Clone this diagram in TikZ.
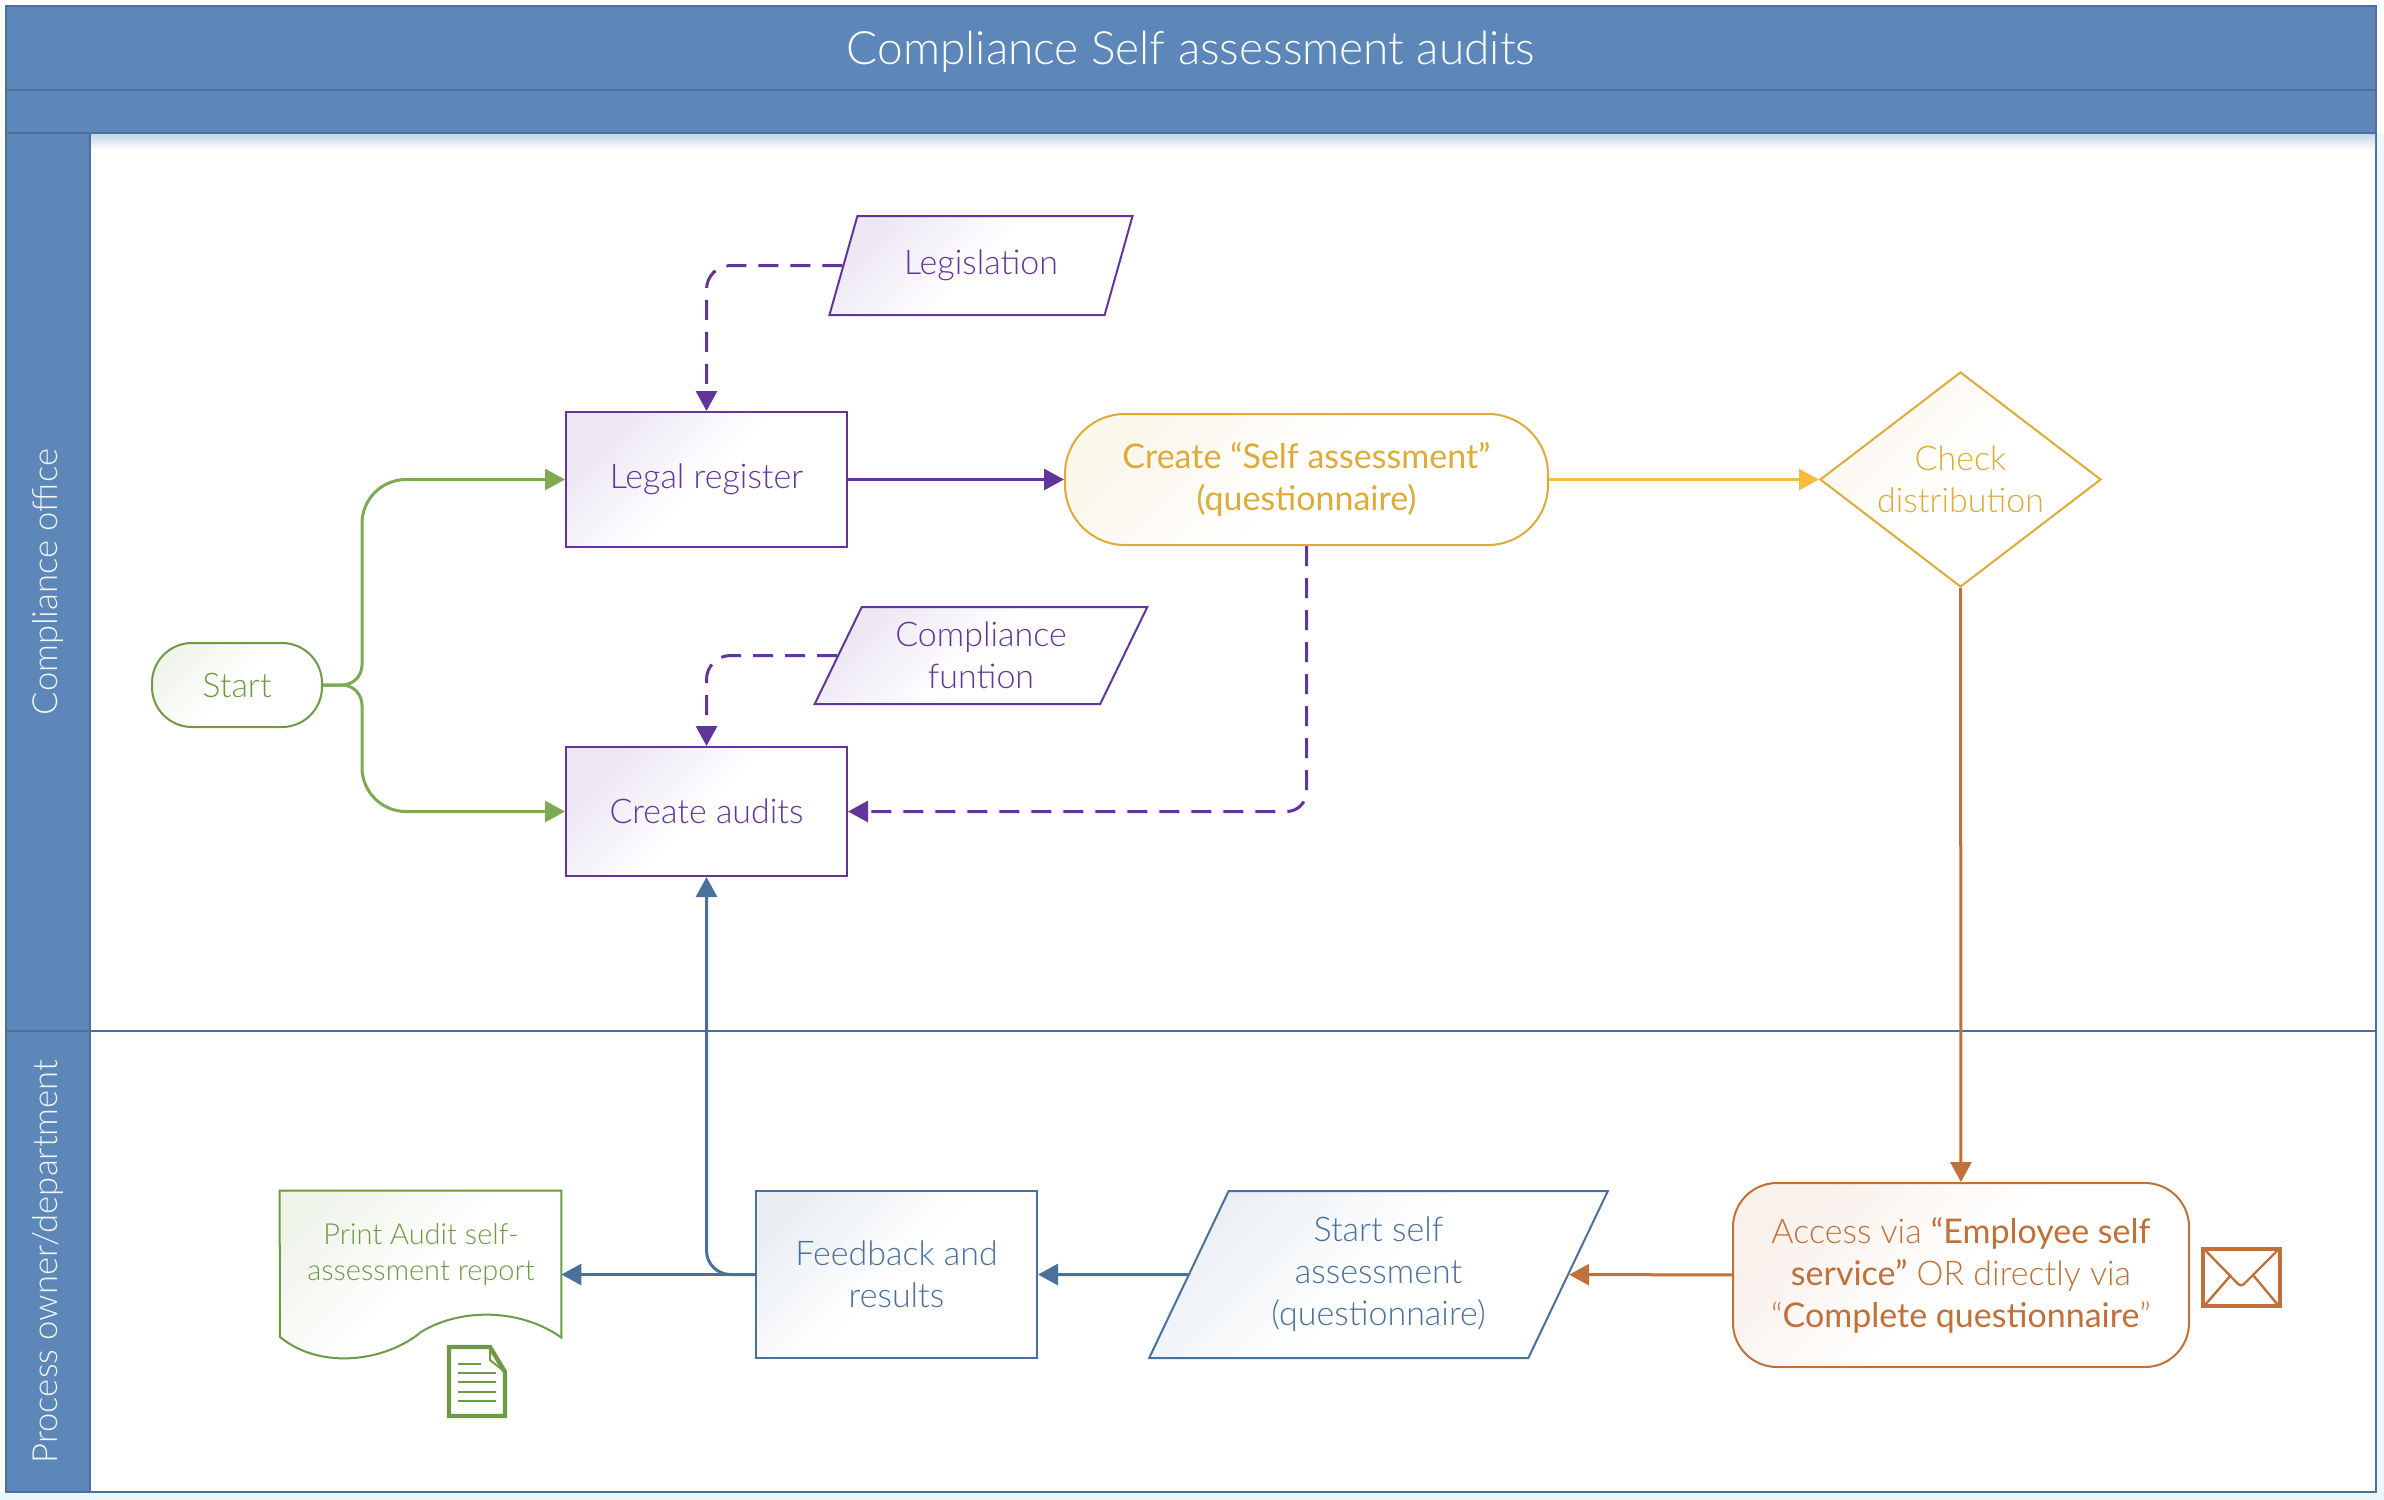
\documentclass[tikz,border=0pt]{standalone}
\usepackage{fontspec}
\setmainfont{Lato Light}
\newfontface\semifont{Lato}
\usepackage{tikz}
\usetikzlibrary{positioning,arrows.meta,calc,shapes.geometric}
\definecolor{figblue}{HTML}{5D87B8}
\definecolor{figedge}{HTML}{4A709C}
\definecolor{figpurple}{HTML}{62359A}
\definecolor{figgreen}{HTML}{6E9A45}
\definecolor{figgreenline}{HTML}{7CAA55}
\definecolor{figgold}{HTML}{DDAB3A}
\definecolor{figyellow}{HTML}{F4BE3C}
\definecolor{figorange}{HTML}{C0713A}
\tikzset{
  tint/.style={top color=#1, bottom color=white, middle color=white, shading angle=45},
  figbox/.style={draw, line width=1pt, align=center, inner sep=1pt, font=\fontsize{17}{21}\selectfont},
  figpurplebox/.style={figbox, draw=figpurple, text=figpurple, tint=figpurple!12},
  figgoldbox/.style={figbox, draw=figgold, text=figgold, tint=figgold!10},
  figorangebox/.style={figbox, draw=figorange, text=figorange, tint=figorange!10},
  figbluebox/.style={figbox, draw=figedge, text=figedge, tint=figedge!11},
  figgreenbox/.style={figbox, draw=figgreen, text=figgreen, tint=figgreen!10},
  figslant/.style={trapezium, trapezium left angle=#1, trapezium right angle=180-#1,
    trapezium stretches=true},
  figlane/.style={draw=figedge, line width=1pt, fill=figblue, text=white, inner sep=0pt},
  figarrow/.style={-{Triangle[length=10pt,width=10.5pt]}, line width=1.5pt},
  figdash/.style={figarrow, dash pattern=on 10pt off 6pt},
}
\begin{document}
\begin{tikzpicture}[x=0.5pt,y=-0.5pt]
  \useasboundingbox (0,0) rectangle (2384,1500);
  \fill[blue!30!cyan!8] (0,1492) rectangle (2384,1500);
  \fill[blue!30!cyan!8] (2376,133) rectangle (2384,1500);

  % lanes
  \node[figlane, minimum width=1185pt, minimum height=42pt, text height=20pt, text depth=4pt, font=\fontsize{23}{26}\selectfont] (title) at (1191,48) {Compliance Self assessment audits};
  \node[figlane, minimum width=1185pt, minimum height=21.5pt] (subtitle) at (1191,111.5) {};
  \foreach \y/\h/\name/\text in {582/449/office/{Compliance office}, 1261.5/230.5/owner/{Process owner/department}} {
    \node[draw=figedge, line width=1pt, fill=white, minimum width=1143pt, minimum height=\h pt] (\name) at (1233,\y) {};
    \node[figlane, minimum width=42pt, minimum height=\h pt] (\name lane) at (48,\y) {};
    \node[rotate=90, text=white!92!figblue, font=\fontsize{17.3}{21}\selectfont] (\name label) at (48,\y) {\text};
  }
  \shade[top color=figblue!35, bottom color=white] (91,134) rectangle (2375,150);

  % compliance office
  \node[figgreenbox, rounded corners=20pt, minimum width=85pt, minimum height=42pt] (start) at (237,685) {Start};
  \node[figpurplebox, minimum width=140.5pt, minimum height=67.5pt] (legal) at (706.5,479.5) {Legal register};
  \node[figpurplebox, minimum width=140.5pt, minimum height=64.5pt] (audits) at (706.5,811.5) {Create audits};
  \node[figpurplebox, figslant=63, minimum width=152pt, minimum height=49.5pt] (legis) at (981,265.5) {Legislation};
  \node[figpurplebox, figslant=64, minimum width=166.5pt, minimum height=48.5pt] (funct) at (981,655.5) {Compliance\\funtion};
  \node[figgoldbox, rounded corners=30pt, minimum width=241.5pt, minimum height=65.5pt, font=\semifont\fontsize{17}{21}\selectfont] (create) at (1306.5,479.5) {Create “Self assessment”\\(questionnaire)};
  \node[figgoldbox, diamond, aspect=1.31, inner sep=0pt, minimum width=140.5pt, minimum height=107.5pt] (check) at (1960.5,479.5) {Check\\distribution};

  % process owner
  \node[figorangebox, rounded corners=22pt, minimum width=228pt, minimum height=92pt] (access) at (1961,1275) {Access via {\semifont“Employee self}\\{\semifont service”} OR directly via\\“{\semifont Complete questionnaire}”};
  \node[figbluebox, figslant=64, minimum width=229.5pt, minimum height=83.5pt] (selfstart) at (1378.5,1274.5) {Start self\\assessment\\(questionnaire)};
  \node[figbluebox, minimum width=140.5pt, minimum height=83.5pt] (feedback) at (896.5,1274.5) {Feedback and\\results};
  \node[inner sep=0pt, minimum width=140.5pt, minimum height=83.5pt] (print) at (420.5,1274.5) {};
  \draw[figgreenbox] (print.north west) -- (print.north east) -- ++(0,147)
    .. controls (520,1308) and (460,1308) .. (421,1332)
    .. controls (385,1362) and (320,1370) .. (280,1337) -- cycle;
  \node[text=figgreen, align=center, font=\fontsize{14.5}{18}\selectfont] (printtext) at (421,1254) {Print Audit self-\\assessment report};

  % icons
  \draw[figgreen, line width=2.2pt, fill=white] (449,1347) -- (490,1347) -- (505,1372) -- (505,1416) -- (449,1416) -- cycle;
  \draw[figgreen, line width=1pt] (490,1347) -- (490,1360) -- (505,1372);
  \foreach \y/\e in {1364/481, 1373/496, 1382/496, 1392/496, 1401/496}
    \draw[figgreen, line width=1.1pt] (458,\y) -- (\e,\y);
  \draw[figorange, line width=2.4pt] (2203,1249) rectangle (2280,1306);
  \draw[figorange, line width=1.2pt, rounded corners=2pt] (2205,1250) -- (2241,1287) -- (2278,1250);
  \draw[figorange, line width=1.2pt] (2205,1305) -- (2231,1275) (2278,1305) -- (2253,1275);

  % connectors
  \coordinate (split) at (362,685);
  \draw[figarrow, figgreenline, rounded corners=10pt] (start.east) -- (split) [rounded corners=22pt] |- (legal.west);
  \draw[figarrow, figgreenline, rounded corners=10pt] (start.east) -- (split) [rounded corners=22pt] |- (audits.west);
  \draw[figdash, figpurple, rounded corners=12pt] (legis.west) -| (legal.north);
  \draw[figdash, figpurple, rounded corners=12pt] (funct.west) -| (audits.north);
  \draw[figarrow, figpurple] (legal) -- (create);
  \draw[figdash, figpurple, rounded corners=10pt] (create.south) |- (audits.east);
  \draw[figarrow, figyellow] (create) -- (check);
  \draw[figarrow, figorange] (check) -- (access);
  \draw[figarrow, figorange] (access) -- (selfstart);
  \draw[figarrow, figedge] (selfstart) -- (feedback);
  \draw[figarrow, figedge] (feedback) -- (print);
  \draw[figarrow, figedge, rounded corners=12pt] (feedback.west) -| (audits.south);
\end{tikzpicture}
\end{document}
